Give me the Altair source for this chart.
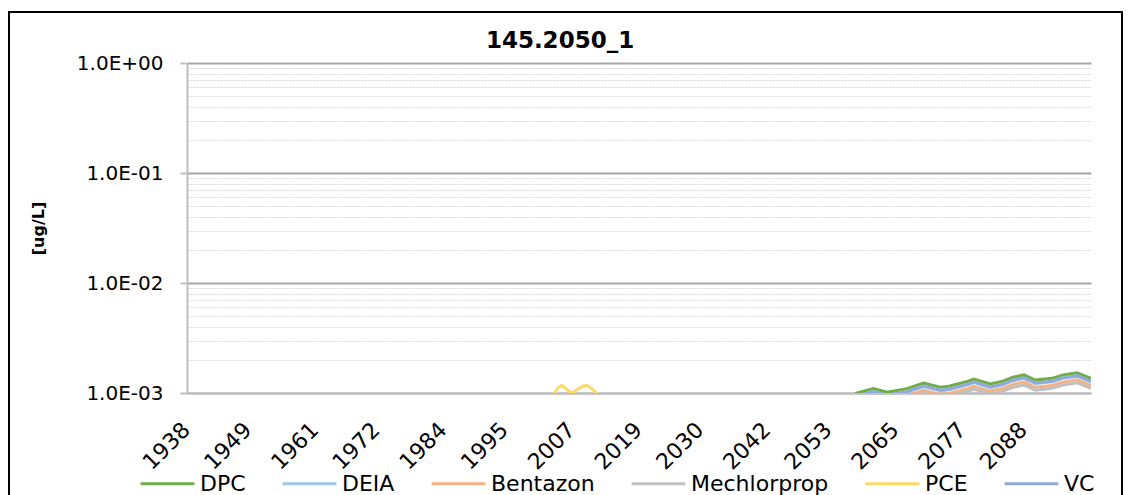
import altair as alt
import pandas as pd

# ---- data ----
chart_title = "145.2050_1"
series_names = ["DPC", "DEIA", "Bentazon", "Mechlorprop", "PCE", "VC"]
series_colors = ["#70AD47", "#9DC3E6", "#F4B183", "#C0C0C0", "#FFD966", "#8FAADC"]

years_late = [2057, 2058, 2061, 2063.5, 2065, 2067, 2070, 2073, 2074.5, 2078, 2079,
              2082, 2084, 2086, 2088, 2090, 2093, 2095, 2097.5, 2100]
dpc = [0.00090, 0.001000, 0.001095, 0.001015, 0.001050, 0.001095, 0.001230, 0.001130,
       0.001150, 0.001280, 0.001340, 0.001210, 0.001270, 0.001390, 0.001460, 0.001310,
       0.001360, 0.001460, 0.001530, 0.001360]
deia = [0.00084, 0.000930, 0.001018, 0.000944, 0.000977, 0.001018, 0.001144, 0.001051,
        0.001070, 0.001190, 0.001246, 0.001125, 0.001181, 0.001293, 0.001358, 0.001218,
        0.001265, 0.001358, 0.001423, 0.001265]
bentazon = [0.00077, 0.000860, 0.000942, 0.000873, 0.000903, 0.000942, 0.001058, 0.000972,
            0.000989, 0.001101, 0.001152, 0.001041, 0.001092, 0.001195, 0.001256, 0.001127,
            0.001170, 0.001256, 0.001316, 0.001170]
mechlorprop = [0.00073, 0.000810, 0.000887, 0.000822, 0.000851, 0.000887, 0.000996, 0.000915,
               0.000932, 0.001037, 0.001085, 0.000980, 0.001029, 0.001126, 0.001183, 0.001061,
               0.001102, 0.001183, 0.001239, 0.001102]
vc = [0.00085, 0.000940, 0.001029, 0.000954, 0.000987, 0.001029, 0.001156, 0.001062,
      0.001081, 0.001203, 0.001260, 0.001137, 0.001194, 0.001307, 0.001372, 0.001231,
      0.001278, 0.001372, 0.001438, 0.001278]

years_pce = [2003.0, 2003.9, 2004.5, 2005.2, 2006.0, 2006.9, 2008.0, 2009.0, 2009.7,
             2010.5, 2011.4, 2012.0]
pce = [0.00090, 0.001000, 0.001120, 0.001170, 0.001090, 0.000990, 0.001080, 0.001160,
       0.001170, 0.001100, 0.001000, 0.00090]

x_tick_years = [1938, 1949, 1961, 1972, 1984, 1995, 2007, 2019, 2030, 2042, 2053,
                2065, 2077, 2088]
x_domain = [1938, 2100]
y_domain = [0.001, 1.0]
y_grid_values = [m * 10.0 ** k for k in (-3, -2, -1) for m in range(1, 10)] + [1.0]

rows = []
for name, ys, vs in [("DPC", years_late, dpc), ("DEIA", years_late, deia),
                     ("Bentazon", years_late, bentazon), ("Mechlorprop", years_late, mechlorprop),
                     ("PCE", years_pce, pce), ("VC", years_late, vc)]:
    for yr, v in zip(ys, vs):
        rows.append({"series": name, "year": yr, "value": v})
df = pd.DataFrame(rows)

FONT = "DejaVu Sans"
is_major = "abs(log(datum.value)/LN10 - round(log(datum.value)/LN10)) < 0.001"
exp_ = "round(log(datum.value)/LN10)"
label_expr = (f"{is_major} ? '1.0E' + ({exp_} < 0 ? '-' : '+') + '0' + abs({exp_}) : ''")

x_enc = alt.X(
    "year:Q",
    scale=alt.Scale(domain=x_domain, nice=False, zero=False),
    axis=alt.Axis(
        values=x_tick_years, format="d", title=None, grid=False, ticks=False,
        labelAngle=-45, labelAlign="right", labelBaseline="middle", labelPadding=33,
        labelOffset=-1,
        labelFont=FONT, labelFontSize=22, labelColor="#000000", labelOverlap=False,
        domainColor="#BFBFBF", domainWidth=2,
    ),
)
y_enc = alt.Y(
    "value:Q",
    scale=alt.Scale(type="log", domain=y_domain, nice=False),
    axis=alt.Axis(
        values=y_grid_values, labelExpr=label_expr, labelOverlap=False,
        labelFont=FONT, labelFontSize=20, labelColor="#000000", labelPadding=17,
        tickSize=7, tickWidth=2,
        tickColor={"condition": {"test": is_major, "value": "#BFBFBF"}, "value": "transparent"},
        gridColor={"condition": {"test": is_major, "value": "#A6A6A6"}, "value": "#D9D9D9"},
        gridWidth={"condition": {"test": is_major, "value": 2}, "value": 1},
        gridDash={"condition": {"test": is_major, "value": []}, "value": [2, 1]},
        domainColor="#BFBFBF", domainWidth=2,
        title="[ug/L]", titleFont=FONT, titleFontSize=16, titleFontWeight="bold",
        titleColor="#000000", titleAngle=270, titleX=-149, titleY=165,
        titleAlign="center", titleBaseline="middle",
    ),
)
color_enc = alt.Color(
    "series:N",
    scale=alt.Scale(domain=series_names, range=series_colors),
    legend=alt.Legend(
        title=None, orient="none", direction="horizontal", legendX=-48, legendY=392,
        symbolType="stroke", symbolStrokeWidth=3, symbolSize=2900,
        labelFont=FONT, labelFontSize=22, labelColor="#000000",
        labelOffset=4, columnPadding=30,
    ),
)

base = alt.Chart(df)
layers = []
for name in series_names:
    layers.append(
        base.transform_filter(alt.datum.series == name)
        .mark_line(clip=True, strokeWidth=3)
        .encode(x=x_enc, y=y_enc, color=color_enc)
    )

deco = alt.Chart(pd.DataFrame({"a": [0]}))
frame = deco.mark_rect(
    filled=False, stroke="#000000", strokeWidth=2, clip=False
).encode(x=alt.value(-178), x2=alt.value(935), y=alt.value(-51), y2=alt.value(445))
title_text = deco.mark_text(
    font=FONT, fontSize=23, fontWeight="bold", color="#000000",
    align="center", baseline="alphabetic", clip=False,
).encode(x=alt.value(373), y=alt.value(-15), text=alt.value(chart_title))

chart = alt.layer(*layers, frame, title_text).properties(
    width=904, height=330,
    padding={"left": 179, "top": 55, "right": 34, "bottom": 102},
    autosize=alt.AutoSizeParams(type="none"),
    background="#FFFFFF",
).configure_view(stroke="transparent")

chart.save("out.html", embed_options={"renderer": "svg", "actions": False})
